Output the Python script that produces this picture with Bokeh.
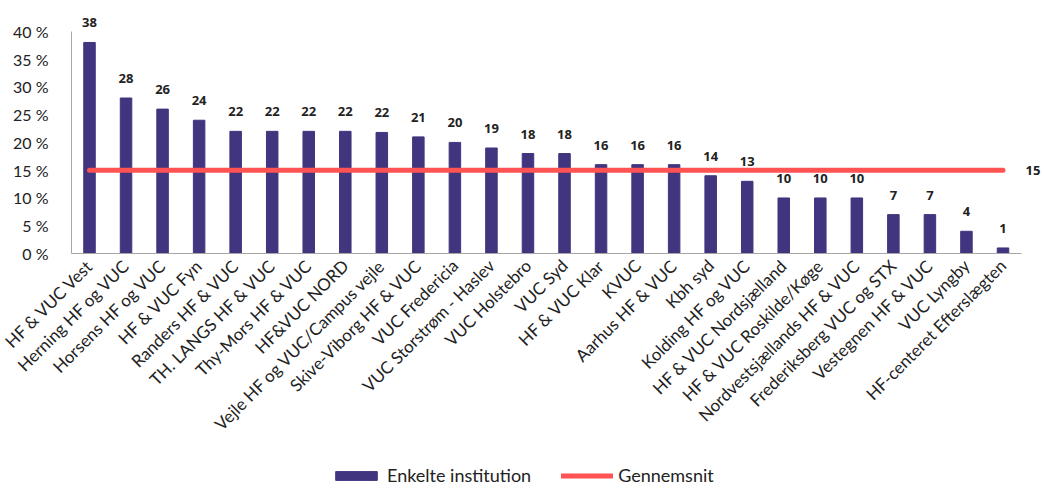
from bokeh.plotting import figure
from bokeh.models import (ColumnDataSource, FixedTicker, PrintfTickFormatter,
                          LabelSet, Label, Legend, LegendItem)
from bokeh.core.properties import value
from bokeh.embed import file_html
from bokeh.resources import INLINE
from math import pi

institutions = [
    "HF & VUC Vest", "Herning HF og VUC", "Horsens HF og VUC", "HF & VUC Fyn",
    "Randers HF & VUC", "TH. LANGS HF & VUC", "Thy-Mors HF & VUC", "HF&VUC NORD",
    "Vejle HF og VUC/Campus vejle", "Skive-Viborg HF & VUC", "VUC Fredericia",
    "VUC Storstrøm - Haslev", "VUC Holstebro", "VUC Syd", "HF & VUC Klar", "KVUC",
    "Aarhus HF & VUC", "Kbh syd", "Kolding HF og VUC", "HF & VUC Nordsjælland",
    "HF & VUC Roskilde/Køge", "Nordvestsjællands HF & VUC", "Frederiksberg VUC og STX",
    "Vestegnen HF & VUC", "VUC Lyngby", "HF-centeret Efterslægten",
]
values = [38, 28, 26, 24, 22, 22, 22, 22, 21.8, 21, 20, 19, 18, 18, 16, 16, 16,
          14, 13, 10, 10, 10, 7, 7, 4, 1]
average = 15
y_ticks = [0, 5, 10, 15, 20, 25, 30, 35, 40]

BAR = "#41357F"
RED = "#FF5252"
FONT = "Lato"
VFONT = "Open Sans"
TXT = "#222222"

n = len(institutions)
pos = list(range(n))
src = ColumnDataSource(dict(
    x=pos,
    v=values,
    lbl=[str(int(round(v))) for v in values],
    avg=[average] * n,
))

X_LEFT = -0.4926   # position of the value axis, half a slot left of the first bar

p = figure(width=1044, height=489, output_backend="svg", toolbar_location=None,
           x_range=(-2.4357, 26.136), y_range=(-42.5, 45.56),
           min_border_left=0, min_border_right=0, min_border_top=0,
           min_border_bottom=0)
p.outline_line_color = None
p.xgrid.grid_line_color = None
p.ygrid.grid_line_color = None

bars = p.vbar(x="x", top="v", width=0.315, source=src, fill_color=BAR, line_color=BAR)
line = p.line(x="x", y="avg", source=src, line_color=RED, line_width=5, line_cap="round")

labels = LabelSet(x="x", y="v", text="lbl", source=src, text_align="center",
                  text_baseline="alphabetic", y_offset=15, text_font=value(VFONT),
                  text_font_size="13px", text_font_style="bold", text_color=TXT)
p.add_layout(labels)

avg_label = Label(x=25.82, y=average, text=str(average), text_align="center",
                  text_baseline="middle", text_font=VFONT, text_font_size="13px",
                  text_font_style="bold", text_color=TXT)
p.add_layout(avg_label)

p.yaxis.ticker = FixedTicker(ticks=y_ticks)
p.yaxis.formatter = PrintfTickFormatter(format="%d %%")
p.yaxis.bounds = (0, 40)
p.yaxis.fixed_location = X_LEFT
p.xaxis.ticker = FixedTicker(ticks=pos)
p.xaxis.major_label_overrides = {i: name for i, name in enumerate(institutions)}
p.xaxis.bounds = (X_LEFT, 25.5)
p.xaxis.fixed_location = 0
for ax in (p.xaxis, p.yaxis):
    ax.axis_line_color = "#A6A6A6"
    ax.major_tick_line_color = None
    ax.minor_tick_line_color = None
    ax.major_tick_out = 0
    ax.major_tick_in = 0
    ax.minor_tick_out = 0
    ax.minor_tick_in = 0
    ax.major_label_text_font = FONT
    ax.major_label_text_color = TXT
p.yaxis.major_label_text_font_size = "16px"
p.xaxis.major_label_text_font_size = "17px"
p.yaxis.major_label_standoff = 23
p.xaxis.major_label_orientation = pi / 4
p.xaxis.major_label_standoff = 9

legend = Legend(items=[LegendItem(label="Enkelte institution", renderers=[bars]),
                       LegendItem(label="Gennemsnit", renderers=[line])],
                orientation="horizontal", location=(330, 3),
                padding=0, margin=0, spacing=30, label_standoff=5,
                glyph_width=52, glyph_height=11, label_height=16,
                border_line_color=None, background_fill_alpha=0,
                label_text_font=FONT, label_text_font_size="18px",
                label_text_color=TXT)
p.add_layout(legend)

open("out.html", "w").write(file_html(p, INLINE))
